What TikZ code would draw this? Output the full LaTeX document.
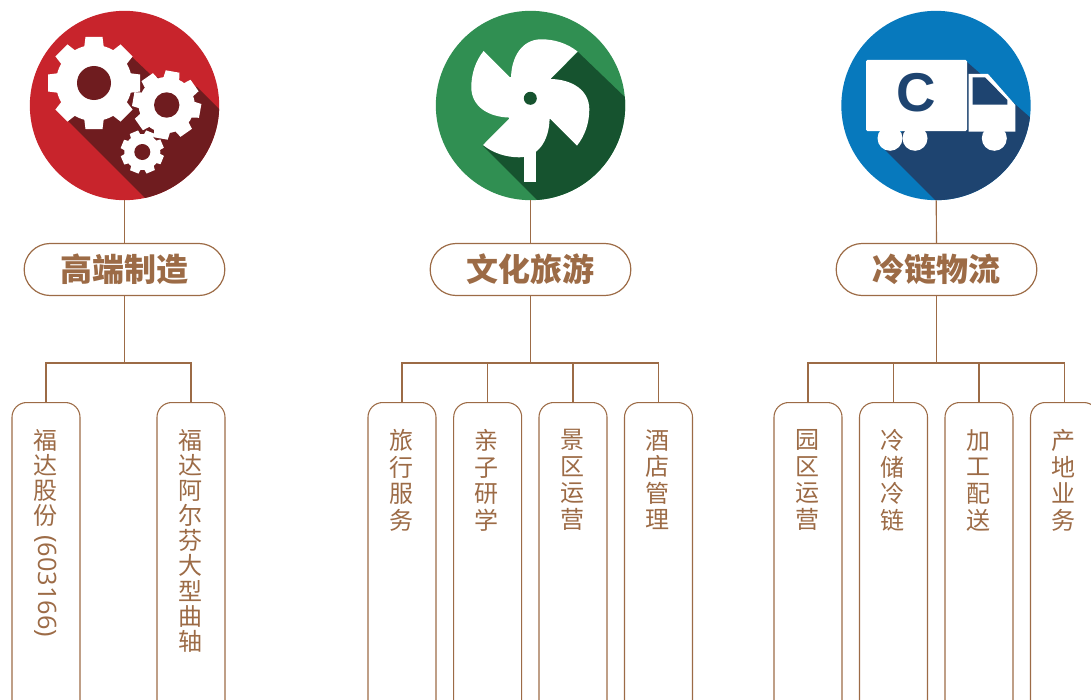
\documentclass[tikz,border=0pt]{standalone}
\usepackage{fontspec}
\setmainfont{Noto Sans CJK SC}
\newfontfamily\truckfont{Liberation Sans}
\newfontfamily\codefont{Open Sans}
\usetikzlibrary{positioning}
\definecolor{brownline}{HTML}{9C6B46}
\definecolor{redlight}{HTML}{C8242C}
\definecolor{reddark}{HTML}{6F1C1F}
\definecolor{greenlight}{HTML}{308F52}
\definecolor{greendark}{HTML}{16532F}
\definecolor{bluelight}{HTML}{0779BD}
\definecolor{bluedark}{HTML}{1E4470}
\tikzset{
	disc/.style={circle, minimum size=142pt, inner sep=0pt},
	hub/.style={draw=brownline, line width=0.9pt, rectangle, rounded corners=19.5pt, minimum width=150.5pt, minimum height=39pt, text=brownline, font=\fontsize{24}{28}\selectfont\bfseries},
	leaf/.style={draw=brownline, line width=0.8pt, rectangle, rounded corners=11pt, minimum width=51pt, minimum height=300pt, anchor=north},
	leaftext/.style={text=brownline, inner sep=0pt, align=center, xshift=-0.6pt, font=\fontsize{18}{19.9}\selectfont},
	leafdense/.style={leaftext, font=\fontsize{18}{18.8}\selectfont},
	link/.style={draw=brownline, line width=0.9pt},
}
\newcommand{\gear}[7]{% x, y, outer, body, half tooth, hole, start angle
	\fill[white] (#1,#2) circle (#4);
	\foreach \a in {0,45,...,315} {
		\begin{scope}[shift={(#1,#2)}, rotate=#7+\a]
			\fill[white] (-#5*1.15,#4-2) -- (-#5,#3) -- (#5,#3) -- (#5*1.15,#4-2) -- cycle;
		\end{scope}
	}
	\fill[reddark] (#1,#2) circle (#6);
}
\begin{document}
\begin{tikzpicture}[x=0.75pt, y=-0.75pt]
	\useasboundingbox (0,0) rectangle (1091,699);
	\clip (0,0) rectangle (1091,699);

	% gears
	\node[disc, fill=redlight] (gears) at (124.5,105.5) {};
	\begin{scope}
		\clip (124.5,105.5) circle (94.7);
		\fill[reddark] (68,121) -- (180,233) -- (262,152) -- (197,87) -- (152,76) -- (132,57) -- cycle;
	\end{scope}
	\gear{94}{83}{46}{38}{8.5}{17}{0}
	\gear{166.7}{105}{34}{28}{7}{12.7}{-10}
	\gear{142.3}{152}{21.5}{18}{4.5}{8}{-22}

	% windmill
	\node[disc, fill=greenlight] (mill) at (530.5,105.5) {};
	\begin{scope}
		\clip (530.5,105.5) circle (94.7);
		\fill[greendark] (483,146) -- (583,246) -- (680,150) -- (578,52) -- cycle;
	\end{scope}
	\fill[white] (524.3,98) rectangle (536,182);
	\begin{scope}[shift={(530.3,98.3)}]
		\fill[white] (-21,-21) rectangle (21,21);
		\foreach \a in {0,90,180,270} {
			\fill[white, rotate=\a] (-19.3,-20) .. controls (-19,-42) and (-8,-59) .. (11,-59) .. controls (24,-59) and (37,-55) .. (47.3,-46.7) -- (20.7,-20) -- cycle;
		}
		\fill[greendark] (0,0) circle (6.5);
	\end{scope}

	% truck
	\node[disc, fill=bluelight] (truck) at (936,105.5) {};
	\begin{scope}
		\clip (936,105.5) circle (94.7);
		\fill[bluedark] (885,150) -- (985,250) -- (1090,170) -- (967,62) -- cycle;
	\end{scope}
	\fill[white, rounded corners=1pt] (866,60) rectangle (967,131);
	\fill[white] (968.7,74) -- (988,74) -- (1015.3,105) -- (1015.3,131.7) -- (968.7,131.7) -- cycle;
	\fill[bluedark] (972.7,77.3) -- (985,77.3) -- (1007.3,100) -- (1007.3,104.7) -- (972.7,104.7) -- cycle;
	\fill[white] (890,138.3) circle (12.5);
	\fill[white] (915,138.3) circle (12.5);
	\fill[white] (994.3,138.3) circle (12.5);
	\node[text=bluedark, font=\truckfont\fontsize{41}{41}\selectfont\bfseries, inner sep=0pt] (truckc) at (916.7,92.5) {C};

	% hubs
	\node[hub] (hubmake) at (124.5,269.5) {高端制造};
	\node[hub] (hubtour) at (530.5,269.5) {文化旅游};
	\node[hub] (hubcold) at (936.5,269.5) {冷链物流};

	\coordinate (busmake) at (124.5,363);
	\coordinate (bustour) at (530.5,363);
	\coordinate (buscold) at (936.5,363);

	% leaves
	\node[leaf] (fuda) at (46,402) {};
	\node[leaf] (alfing) at (191,402) {};
	\node[leaf] (travel) at (402,402) {};
	\node[leaf] (family) at (487.7,402) {};
	\node[leaf] (scenic) at (573,402) {};
	\node[leaf] (hotel) at (658.5,402) {};
	\node[leaf] (park) at (808,402) {};
	\node[leaf] (store) at (893.5,402) {};
	\node[leaf] (process) at (979,402) {};
	\node[leaf] (origin) at (1064.5,402) {};

	\node[leafdense, below=20.5pt of fuda.north] (fudatext) {福\\达\\股\\份};
	\node[leaftext, rotate=-90, anchor=west, font=\codefont\fontsize{19}{20}\selectfont] (fudacode) at ([yshift=-6pt, xshift=0.6pt]fudatext.south) {(603166)};
	\node[leafdense, below=20.5pt of alfing.north] (alfingtext) {福\\达\\阿\\尔\\芬\\大\\型\\曲\\轴};
	\node[leaftext, below=20.5pt of travel.north] (traveltext) {旅\\行\\服\\务};
	\node[leaftext, below=20.5pt of family.north] (familytext) {亲\\子\\研\\学};
	\node[leaftext, below=20.5pt of scenic.north] (scenictext) {景\\区\\运\\营};
	\node[leaftext, below=20.5pt of hotel.north] (hoteltext) {酒\\店\\管\\理};
	\node[leaftext, below=20.5pt of park.north] (parktext) {园\\区\\运\\营};
	\node[leaftext, below=20.5pt of store.north] (storetext) {冷\\储\\冷\\链};
	\node[leaftext, below=20.5pt of process.north] (processtext) {加\\工\\配\\送};
	\node[leaftext, below=20.5pt of origin.north] (origintext) {产\\地\\业\\务};

	% connectors
	\draw[link] (gears) -- (hubmake);
	\draw[link] (mill) -- (hubtour);
	\draw[link] (truck) -- (hubcold);
	\draw[link] (hubmake) -- (busmake);
	\draw[link] (hubtour) -- (bustour);
	\draw[link] (hubcold) -- (buscold);
	\draw[link] (fuda.north) |- (busmake);
	\draw[link] (alfing.north) |- (busmake);
	\draw[link] (travel.north) |- (bustour);
	\draw[link] (family.north) |- (bustour);
	\draw[link] (scenic.north) |- (bustour);
	\draw[link] (hotel.north) |- (bustour);
	\draw[link] (park.north) |- (buscold);
	\draw[link] (store.north) |- (buscold);
	\draw[link] (process.north) |- (buscold);
	\draw[link] (origin.north) |- (buscold);
\end{tikzpicture}
\end{document}
